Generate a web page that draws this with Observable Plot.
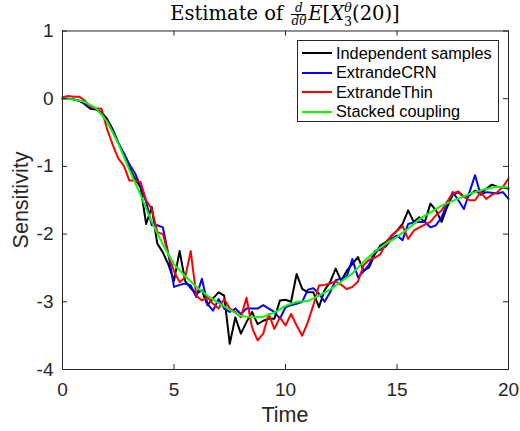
<!DOCTYPE html>
<html><head><meta charset="utf-8">
<script src="https://cdn.jsdelivr.net/npm/d3@7"></script>
<script src="https://cdn.jsdelivr.net/npm/@observablehq/plot@0.6"></script>
<style>
body{margin:0;background:#fff;}
#wrap{position:relative;width:520px;height:431px;font-family:"Liberation Sans",Arial,sans-serif;color:#262626;}
#chart{position:absolute;left:0;top:0;}
#title{position:absolute;left:62px;width:446px;top:0.5px;text-align:center;font-family:"DejaVu Serif","Liberation Serif",serif;font-size:19.5px;line-height:23px;color:#000;white-space:nowrap;}
.frac{display:inline-block;vertical-align:middle;text-align:center;font-size:12px;line-height:10px;font-style:italic;margin:0 2px;}
.frac .num{display:block;border-bottom:1px solid #000;padding:0 1px 1px 1px;}
.frac .den{display:block;padding-top:1px;}
.ss{display:inline-block;vertical-align:-6px;font-size:12.5px;line-height:14px;}
.ss span{display:block;}
#legend{position:absolute;left:297px;top:40px;width:200px;height:80px;border:1px solid #262626;background:#fff;font-size:16.3px;color:#000;}
.row{position:absolute;left:0;height:20px;display:flex;align-items:center;white-space:nowrap;}
.sw{display:inline-block;width:30px;height:2px;margin-left:4px;margin-right:4px;}
</style>
</head><body>
<div id="wrap">
  <div id="chart"></div>
  <div id="title">Estimate of <span class="frac"><span class="num">d</span><span class="den">dθ</span></span><i>E</i>[<i>X</i><span class="ss"><span><i>θ</i></span><span>3</span></span>(20)]</div>
  <div id="legend"></div>
</div>
<script>
const seriesNames = ["Independent samples", "ExtrandeCRN", "ExtrandeThin", "Stacked coupling"];
const seriesColors = ["#000000", "#0000ff", "#ff0000", "#00ff00"];
const xTicks = [0, 5, 10, 15, 20];
const yTicks = [-4, -3, -2, -1, 0, 1];

// sampled at t = 0, 0.25, ..., 20
const independent = [0.0,0.0,-0.01,-0.03,-0.08,-0.15,-0.16,-0.2,-0.3,-0.45,-0.65,-0.82,-1.02,-1.18,-1.31,-1.85,-1.6,-2.14,-2.27,-2.45,-2.69,-2.25,-2.69,-2.8,-2.88,-2.83,-3.05,-2.95,-2.86,-2.91,-3.62,-3.23,-3.47,-3.3,-3.15,-3.33,-3.28,-3.25,-3.25,-2.98,-2.97,-3.0,-2.59,-2.81,-2.86,-2.86,-3.08,-2.83,-2.71,-2.51,-2.69,-2.54,-2.44,-2.34,-2.54,-2.49,-2.3,-2.17,-2.12,-2.03,-1.95,-1.85,-1.65,-1.82,-1.75,-1.82,-1.55,-1.65,-1.82,-1.6,-1.42,-1.38,-1.45,-1.43,-1.36,-1.4,-1.33,-1.27,-1.3,-1.31,-1.33];
const extrandeCRN = [0.0,0.0,-0.01,-0.03,-0.07,-0.13,-0.15,-0.22,-0.33,-0.48,-0.65,-0.8,-0.97,-1.1,-1.3,-1.52,-1.87,-1.87,-1.9,-2.3,-2.78,-2.75,-2.73,-2.76,-2.93,-2.66,-3.03,-3.13,-2.96,-3.1,-3.15,-3.1,-3.18,-3.1,-3.1,-3.1,-3.05,-3.1,-3.15,-3.25,-3.08,-3.05,-3.03,-3.0,-2.82,-2.8,-2.88,-3.0,-2.86,-2.68,-2.66,-2.62,-2.37,-2.64,-2.55,-2.45,-2.25,-2.23,-2.18,-2.07,-2.02,-2.09,-1.85,-1.83,-1.82,-1.82,-1.9,-1.87,-1.75,-1.55,-1.38,-1.5,-1.63,-1.38,-1.13,-1.42,-1.38,-1.39,-1.4,-1.38,-1.48];
const extrandeThin = [0.02,0.04,0.03,0.03,-0.03,-0.12,-0.14,-0.15,-0.45,-0.68,-0.88,-0.99,-1.21,-1.21,-1.23,-1.5,-1.63,-1.97,-2.0,-2.3,-2.55,-2.71,-2.64,-2.25,-2.91,-2.98,-2.93,-3.03,-3.1,-2.96,-3.1,-3.15,-3.23,-2.94,-3.38,-3.57,-3.47,-3.18,-3.4,-3.23,-3.35,-3.18,-3.35,-3.5,-3.3,-3.05,-2.76,-2.75,-2.73,-2.7,-2.75,-2.81,-2.78,-2.7,-2.46,-2.38,-2.35,-2.3,-2.14,-2.02,-1.95,-1.88,-2.07,-1.95,-1.9,-1.86,-1.82,-1.72,-1.65,-1.52,-1.4,-1.37,-1.45,-1.5,-1.5,-1.38,-1.48,-1.42,-1.38,-1.3,-1.18];
// sampled at t = 0, 0.5, ..., 20
const stacked = [0.0,-0.01,-0.05,-0.14,-0.34,-0.66,-1.05,-1.42,-1.82,-2.15,-2.45,-2.62,-2.78,-2.91,-3.02,-3.12,-3.21,-3.23,-3.22,-3.16,-3.06,-3.0,-2.99,-2.91,-2.82,-2.7,-2.58,-2.41,-2.26,-2.14,-2.04,-1.92,-1.78,-1.68,-1.58,-1.51,-1.44,-1.38,-1.33,-1.3,-1.31];

const tFine = d3.range(81).map(i => i * 0.25);
const tCoarse = d3.range(41).map(i => i * 0.5);
const toRows = (ts, vs) => vs.map((v, i) => ({t: ts[i], v}));
const data = [
  toRows(tFine, independent),
  toRows(tFine, extrandeCRN),
  toRows(tFine, extrandeThin),
  toRows(tCoarse, stacked)
];

const W = 520, H = 431, ML = 62, MR = 12, MT = 30.5, MB = 62;
const plotW = W - ML - MR, plotH = H - MT - MB, tickLen = 5;
const axisColor = "#262626";
const fmt = d => String(d);
const chart = Plot.plot({
  width: W, height: H,
  marginLeft: ML, marginRight: MR, marginTop: MT, marginBottom: MB,
  style: {fontFamily: "'Liberation Sans', Arial, sans-serif", color: axisColor, background: "#fff"},
  x: {domain: [0, 20]},
  y: {domain: [-4, 1]},
  marks: [
    ...data.map((d, i) => Plot.line(d, {x: "t", y: "v", stroke: seriesColors[i], strokeWidth: 2})),
    // inward ticks on all four sides (MATLAB box style)
    Plot.tickX(xTicks, {x: d => d, insetTop: plotH - tickLen, stroke: axisColor}),
    Plot.tickX(xTicks, {x: d => d, insetBottom: plotH - tickLen, stroke: axisColor}),
    Plot.tickY(yTicks, {y: d => d, insetRight: plotW - tickLen, stroke: axisColor}),
    Plot.tickY(yTicks, {y: d => d, insetLeft: plotW - tickLen, stroke: axisColor}),
    Plot.frame({stroke: axisColor, strokeWidth: 1}),
    Plot.axisX(xTicks, {anchor: "bottom", tickSize: 0, tickPadding: 13, tickFormat: fmt, fontSize: 19, label: null, fill: axisColor}),
    Plot.axisY(yTicks, {anchor: "left", tickSize: 0, tickPadding: 9, tickFormat: fmt, fontSize: 19, label: null, fill: axisColor})
  ]
});
document.getElementById("chart").appendChild(chart);

const svg = d3.select(chart);
svg.append("text").attr("x", 285).attr("y", 421.5).attr("text-anchor", "middle")
  .attr("font-size", 21.5).attr("fill", axisColor).text("Time");
svg.append("text").attr("transform", "translate(28,200) rotate(-90)").attr("text-anchor", "middle")
  .attr("font-size", 21.5).attr("fill", axisColor).text("Sensitivity");

const legend = document.getElementById("legend");
seriesNames.forEach((name, i) => {
  const row = document.createElement("div");
  row.className = "row";
  row.style.top = (2.3 + 19.5 * i) + "px";
  const sw = document.createElement("span");
  sw.className = "sw";
  sw.style.background = seriesColors[i];
  row.appendChild(sw);
  row.appendChild(document.createTextNode(name));
  legend.appendChild(row);
});
</script>
</body></html>
